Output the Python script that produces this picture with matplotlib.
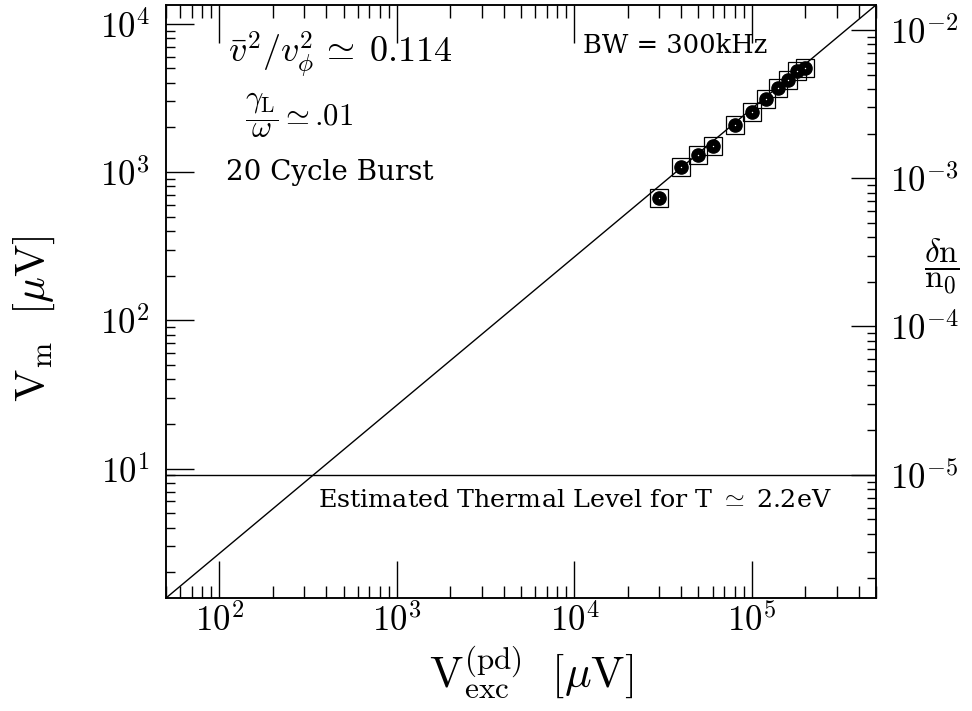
import numpy as np
import matplotlib
matplotlib.use('Agg')
import matplotlib.pyplot as plt

plt.rcParams['font.family'] = ['cmr10', 'DejaVu Serif']
plt.rcParams['mathtext.fontset'] = 'cm'
plt.rcParams['axes.unicode_minus'] = False
plt.rcParams['axes.formatter.use_mathtext'] = True

# measured mode amplitude vs. excitation amplitude (20 cycle bursts)
v_exc = [3.0e4, 4.0e4, 5.0e4, 6.0e4, 8.0e4, 1.0e5, 1.2e5, 1.4e5, 1.6e5, 1.8e5, 2.0e5]
v_m = [666, 1077, 1306, 1507, 2078, 2529, 3128, 3690, 4178, 4797, 5054]

# linear-response line and thermal noise floor
linear_gain = 0.0268
thermal_level = 9.0
dn_per_uv = 1.1e-6  # delta n / n0 per microvolt of V_m

x_lim = (50, 5e5)
y_lim = (1.34, 1.34e4)
x_exps = [2, 3, 4, 5]
y_exps = [1, 2, 3, 4]
dn_exps = [-5, -4, -3, -2]

note_font = 'DejaVu Serif'

fig = plt.figure(figsize=(9.72, 7.11), dpi=100)
ax = fig.add_axes([0.1708, 0.1589, 0.7304, 0.8341])
ax.set_xscale('log')
ax.set_yscale('log')
ax.set_xlim(*x_lim)
ax.set_ylim(*y_lim)

# reference lines
line_x = np.array(x_lim)
ax.plot(line_x, linear_gain * line_x, color='black', lw=1.0)
ax.axhline(thermal_level, color='black', lw=1.0)

# data: open squares around filled dots
ax.plot(v_exc, v_m, ls='none', marker='s', ms=13, mfc='none', mec='black', mew=0.9)
ax.plot(v_exc, v_m, ls='none', marker='o', ms=9.5, mfc='black', mec='black')
ax.plot(v_exc, v_m, ls='none', marker='o', ms=1.0, mfc='white', mew=0)

ax.set_xticks([10.0 ** e for e in x_exps])
ax.set_xticklabels([rf'$10^{{{e}}}$' for e in x_exps])
ax.set_yticks([10.0 ** e for e in y_exps])
ax.set_yticklabels([rf'$10^{{{e}}}$' for e in y_exps])

for side in ax.spines.values():
    side.set_linewidth(1.1)

ax.tick_params(axis='x', which='major', direction='in', top=True, length=27,
               width=1.0, labelsize=25, pad=4)
ax.tick_params(axis='x', which='minor', direction='in', top=True, length=9, width=1.0)
ax.tick_params(axis='y', which='major', direction='in', right=False, length=20,
               width=1.0, labelsize=25, pad=12)
ax.tick_params(axis='y', which='minor', direction='in', right=False, length=6.5, width=1.0)

# right axis: density perturbation
ax2 = ax.twinx()
ax2.set_yscale('log')
ax2.set_ylim(y_lim[0] * dn_per_uv, y_lim[1] * dn_per_uv)
ax2.set_yticks([10.0 ** e for e in dn_exps])
ax2.set_yticklabels([rf'$10^{{{e}}}$' for e in dn_exps])
ax2.tick_params(axis='y', which='major', direction='in', length=18, width=1.0,
                labelsize=25, pad=10)
ax2.tick_params(axis='y', which='minor', direction='in', length=6.5, width=1.0)
for side in ax2.spines.values():
    side.set_linewidth(1.1)

ax.set_xlabel(r'$\mathrm{V}_{\mathrm{exc}}^{(\mathrm{pd})}\ \ [\mu\mathrm{V}]$',
              fontsize=32, va='center')
ax.xaxis.set_label_coords(0.514, -0.125)
ax.set_ylabel(r'$\mathrm{V}_{\mathrm{m}}\ \ [\mu\mathrm{V}]$', fontsize=31, va='center')
ax.yaxis.set_label_coords(-0.186, 0.47)
ax.text(1.093, 0.56, r'$\dfrac{\delta\mathrm{n}}{\mathrm{n}_0}$', transform=ax.transAxes,
        fontsize=24, ha='center', va='center')

# annotations
ax.text(0.087, 0.916, r'$\bar{v}^2/v_\phi^2\,\simeq\;0.114$', transform=ax.transAxes,
        fontsize=26, ha='left', va='center')
ax.text(0.111, 0.814, r'$\dfrac{\gamma_{\mathrm{L}}}{\omega}\simeq$.01',
        transform=ax.transAxes, fontsize=22, ha='left', va='center')
ax.text(0.0845, 0.718, '20 Cycle Burst', transform=ax.transAxes,
        family=note_font, fontsize=20, ha='left', va='center')
ax.text(0.587, 0.9325, 'BW = 300kHz', transform=ax.transAxes,
        family=note_font, fontsize=18.5, ha='left', va='center')
ax.text(0.214, 0.165, r'Estimated Thermal Level for T $\simeq$ 2.2eV',
        transform=ax.transAxes, family=note_font, fontsize=18.3, ha='left', va='center')

fig.savefig('out.png', dpi=100)
